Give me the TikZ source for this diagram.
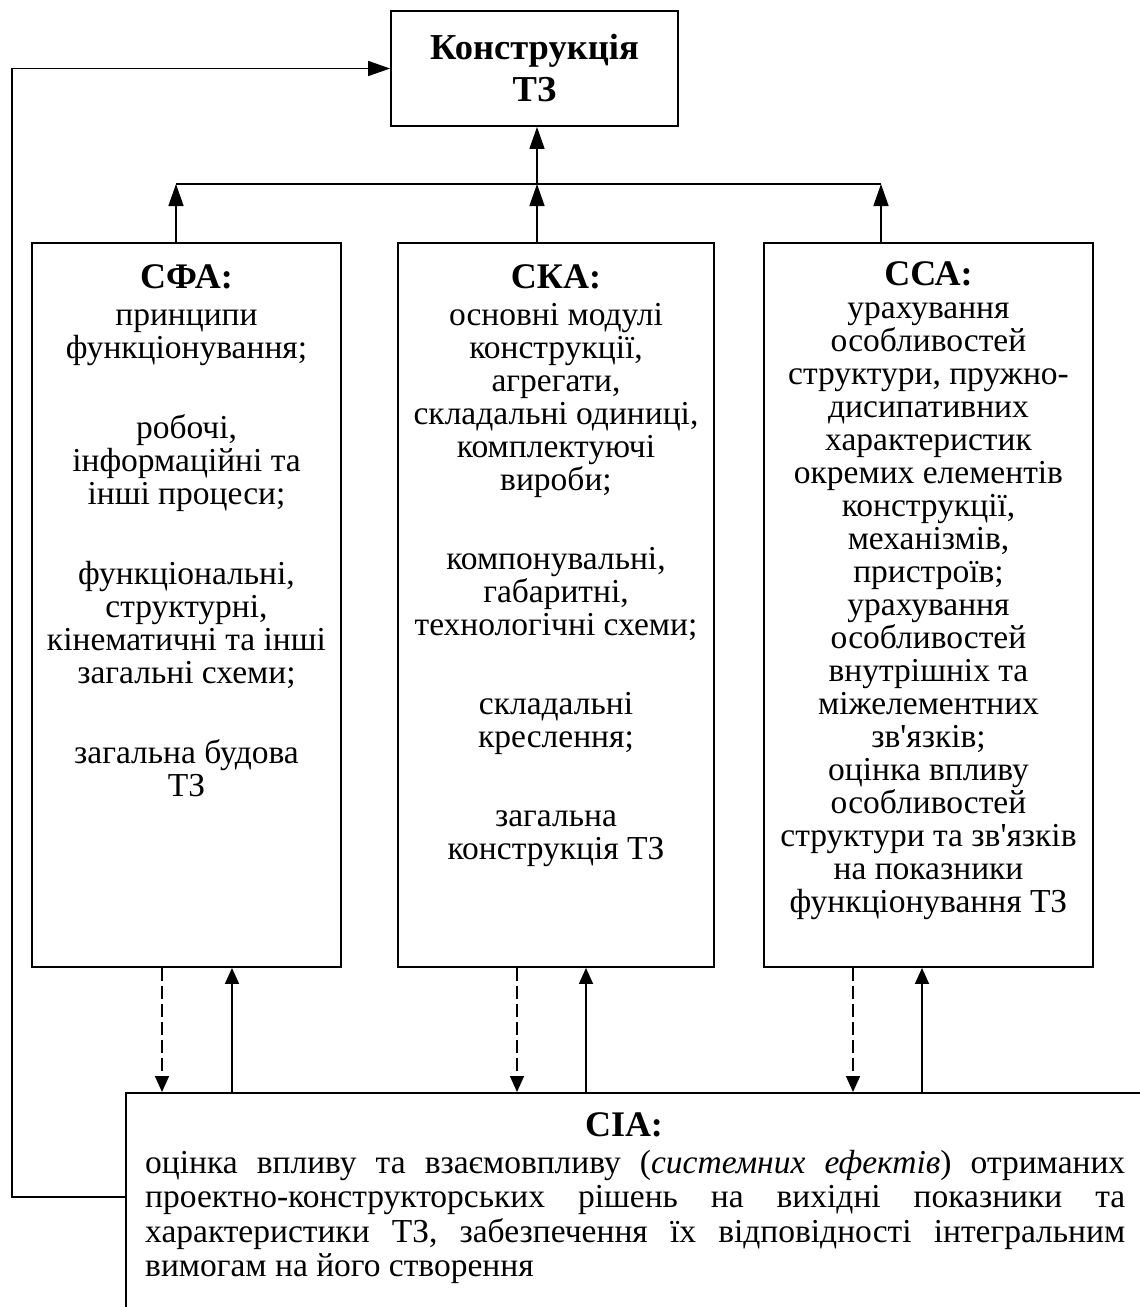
\documentclass[tikz,border=0pt]{standalone}
\usepackage{fontspec}
\setmainfont{Liberation Serif}
\usetikzlibrary{positioning,arrows.meta}

\newcommand{\boxhead}[1]{{\fontsize{36}{40}\selectfont\bfseries #1}}
\newcommand{\apos}{\textquotesingle}

\begin{document}
\begin{tikzpicture}[x=1pt, y=-1pt,
  box/.style={draw=black, line width=1.8pt, inner sep=0pt},
  body/.style={inner sep=0pt, align=center, font=\fontsize{33.5}{33}\selectfont},
  wire/.style={line width=1.5pt},
  uparrow/.style={wire, -{Triangle[length=22pt, width=15pt]}},
  link/.style={wire, -{Triangle[length=16pt, width=14pt]}},
  linkdash/.style={link, dash pattern=on 13pt off 5pt}
]
\path[use as bounding box] (0,0) rectangle (1140,1307);
\clip (0,0) rectangle (1140,1307);

% target
\node[box, minimum width=287pt, minimum height=115pt, align=center,
      font=\fontsize{36.5}{42}\selectfont\bfseries] (ktz) at (534.5,68.5) {Конструкція\\ТЗ};

% analysis blocks
\node[box, minimum width=309pt, minimum height=724pt] (sfa) at (186.5,605) {};
\node[box, minimum width=316pt, minimum height=724pt] (ska) at (556,605) {};
\node[box, minimum width=329pt, minimum height=724pt] (cca) at (928.5,605) {};

\node[body, below=22pt of sfa.north] (sfatext) {\boxhead{СФА:}\\[4pt]
  принципи\\функціонування;\\[47pt]
  робочі,\\інформаційні та\\інші процеси;\\[47pt]
  функціональні,\\структурні,\\кінематичні та інші\\загальні схеми;\\[47pt]
  загальна будова\\ТЗ};

\node[body, below=22pt of ska.north] (skatext) {\boxhead{СКА:}\\[4pt]
  основні модулі\\конструкції,\\агрегати,\\складальні одиниці,\\комплектуючі\\вироби;\\[46pt]
  компонувальні,\\габаритні,\\технологічні схеми;\\[46pt]
  складальні\\креслення;\\[46pt]
  загальна\\конструкція ТЗ};

\node[body, below=19pt of cca.north] (ccatext) {\boxhead{ССА:}\\
  урахування\\особливостей\\структури, пружно-\\дисипативних\\характеристик\\окремих елементів\\конструкції,\\механізмів,\\пристроїв;\\
  урахування\\особливостей\\внутрішніх та\\міжелементних\\зв\apos язків;\\
  оцінка впливу\\особливостей\\структури та зв\apos язків\\на показники\\функціонування ТЗ};

% integration block (cut by the page edge)
\node[box, minimum width=1040pt, minimum height=240pt, anchor=north west] (cia) at (125,1092) {};
\node[inner sep=0pt, anchor=north, font=\fontsize{36}{40}\selectfont\bfseries] (ciahead) at (624,1112) {СІА:};
\node[inner sep=0pt, text width=980pt, align=justify, font=\fontsize{33.5}{34.5}\selectfont,
      anchor=north west] (ciabody) at (145,1150) {\hyphenpenalty=10000 \exhyphenpenalty=10000
  оцінка впливу та взаємовпливу (\textit{системних ефектів}) отриманих\linebreak
  проектно-конструкторських рішень на вихідні показники та\linebreak
  характеристики ТЗ, забезпечення їх відповідності інтегральним\linebreak
  вимогам на його створення};

% bus to target
\coordinate (bus) at (537,184);
\draw[wire] ([xshift=-10.5pt]sfa.north |- bus) -- ([xshift=-47.5pt]cca.north |- bus);
\draw[uparrow] ([xshift=-10.5pt]sfa.north) -- ([xshift=-10.5pt]sfa.north |- bus);
\draw[uparrow] ([xshift=-19pt]ska.north) -- (bus);
\draw[uparrow] ([xshift=-47.5pt]cca.north) -- ([xshift=-47.5pt]cca.north |- bus);
\draw[uparrow] (bus) -- (bus |- ktz.south);

% exchange with СІА
\draw[linkdash] ([xshift=-24.5pt]sfa.south) -- ([xshift=-24.5pt]sfa.south |- cia.north);
\draw[link] ([xshift=45.5pt]sfa.south |- cia.north) -- ([xshift=45.5pt]sfa.south);
\draw[linkdash] ([xshift=-39pt]ska.south) -- ([xshift=-39pt]ska.south |- cia.north);
\draw[link] ([xshift=30pt]ska.south |- cia.north) -- ([xshift=30pt]ska.south);
\draw[linkdash] ([xshift=-75.5pt]cca.south) -- ([xshift=-75.5pt]cca.south |- cia.north);
\draw[link] ([xshift=-6.5pt]cca.south |- cia.north) -- ([xshift=-6.5pt]cca.south);

% feedback
\coordinate (fb) at (125,1197);
\coordinate (fbcorner) at (12,1197);
\draw[uparrow] (fb) -- (fbcorner) |- (ktz.west);
\end{tikzpicture}
\end{document}
